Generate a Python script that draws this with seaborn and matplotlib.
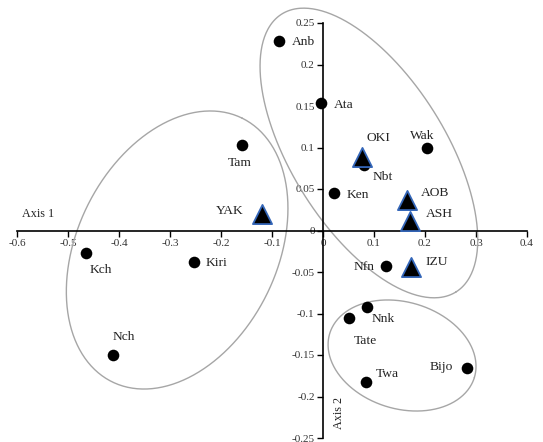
import numpy as np
import pandas as pd
import matplotlib
matplotlib.use("Agg")
import matplotlib.pyplot as plt
import seaborn as sns

# ---------------- data ----------------
dot_names = ["Anb", "Ata", "Tam", "Wak", "Nbt", "Ken", "Kch", "Kiri", "Nch",
             "Nfn", "Nnk", "Tate", "Twa", "Bijo"]
dot_x = [-0.086, -0.003, -0.159, 0.203, 0.080, 0.022, -0.465, -0.253, -0.412,
         0.124, 0.086, 0.050, 0.084, 0.283]
dot_y = [0.228, 0.154, 0.103, 0.099, 0.079, 0.045, -0.027, -0.038, -0.150,
         -0.043, -0.092, -0.105, -0.183, -0.166]

tri_names = ["OKI", "YAK", "AOB", "ASH", "IZU"]
tri_x = [0.076, -0.120, 0.165, 0.171, 0.172]
tri_y = [0.088, 0.020, 0.037, 0.012, -0.044]

x_ticks = [-0.6, -0.5, -0.4, -0.3, -0.2, -0.1, 0, 0.1, 0.2, 0.3, 0.4]
y_ticks = [-0.25, -0.2, -0.15, -0.1, -0.05, 0, 0.05, 0.1, 0.15, 0.2, 0.25]

# ---------------- layout / style ----------------
# label offsets in pixels (dx, dy with y up) and horizontal alignment
label_style = {
    "Anb": (13, -1, "left"), "Ata": (12, -2, "left"), "Tam": (-2, -18, "center"),
    "Wak": (-4, 12, "center"), "Nbt": (19, -12, "center"), "Ken": (12, -2, "left"),
    "Kch": (15, -17, "center"), "Kiri": (12, -1, "left"), "Nch": (11, 18, "center"),
    "Nfn": (-12, -1, "right"), "Nnk": (16, -12, "center"), "Tate": (17, -23, "center"),
    "Twa": (10, 8, "left"), "Bijo": (-14, 1, "right"),
    "OKI": (17, 19, "center"), "YAK": (-18, 3, "right"), "AOB": (14, 7, "left"),
    "ASH": (16, 7, "left"), "IZU": (15, 5, "left"),
}
# ellipses: centre (data), semi-axes (pixels), angle (deg, screen)
ellipses = [
    ((-0.286, -0.0235), 147, 100, 63.7),
    ((0.090, 0.0934), 164, 77, -57.9),
    ((0.155, -0.1506), 75.6, 53.3, -16.9),
]

sns.set_theme(style="white")
plt.rcParams["font.family"] = ["Liberation Serif", "DejaVu Serif"]

fig = plt.figure(figsize=(5.43, 4.42), dpi=100)
ax = fig.add_axes([17 / 543, 4 / 442, 510 / 543, 415 / 442])
ax.set_xlim(-0.6, 0.4)
ax.set_ylim(-0.25, 0.25)

df_dot = pd.DataFrame({"x": dot_x, "y": dot_y, "name": dot_names})
df_tri = pd.DataFrame({"x": tri_x, "y": tri_y, "name": tri_names})

sns.scatterplot(data=df_dot, x="x", y="y", ax=ax, color="black", marker="o",
                s=70, edgecolor="black", linewidth=0, zorder=5, legend=False)
sns.scatterplot(data=df_tri, x="x", y="y", ax=ax, color="black", marker="^",
                s=190, edgecolor="#3466b8", linewidth=1.3, zorder=5, legend=False)

for df in (df_dot, df_tri):
    for _, r in df.iterrows():
        dx, dy, ha = label_style[r["name"]]
        ax.annotate(r["name"], (r["x"], r["y"]), xytext=(dx, dy),
                    textcoords="offset pixels", ha=ha, va="center",
                    fontsize=9.7, color="#222222", zorder=6)

# ellipses drawn in pixel space then mapped to data coords
p0 = ax.transData.transform((0, 0))
p1 = ax.transData.transform((1, 1))
sx, sy = p1[0] - p0[0], p1[1] - p0[1]
t = np.linspace(0, 2 * np.pi, 400)
for (cx, cy), a, b, ang in ellipses:
    phi = np.deg2rad(ang)
    dxp = a * np.cos(t) * np.cos(phi) - b * np.sin(t) * np.sin(phi)
    dyp = a * np.cos(t) * np.sin(phi) + b * np.sin(t) * np.cos(phi)
    ax.plot(cx + dxp / sx, cy + dyp / sy, color="#a6a6a6", lw=1.0,
            clip_on=False, zorder=3)

# axes through the origin
for s in ("top", "right"):
    ax.spines[s].set_visible(False)
ax.spines["left"].set_position(("data", 0))
ax.spines["bottom"].set_position(("data", 0))
for s in ("left", "bottom"):
    ax.spines[s].set_color("black")
    ax.spines[s].set_linewidth(1.2)
    ax.spines[s].set_zorder(4)

ax.set_xticks(x_ticks)
ax.set_yticks(y_ticks)
ax.set_xticklabels([f"{v:g}" for v in x_ticks])
ax.set_yticklabels([f"{v:g}" for v in y_ticks])
ax.tick_params(axis="both", direction="out", length=4, width=1, color="black",
               labelsize=8, labelcolor="#333333", pad=2,
               bottom=True, left=True)
ax.set_xlabel("")
ax.set_ylabel("")
ax.grid(False)
ax.set_facecolor("white")

ax.text(-0.590, 0.020, "Axis 1", fontsize=8.7, ha="left", va="center", color="#222222")
ax.text(0.031, -0.22, "Axis 2", fontsize=8.7, ha="center", va="center",
        rotation=90, color="#222222")

fig.savefig("out.png", dpi=100, facecolor="white")
